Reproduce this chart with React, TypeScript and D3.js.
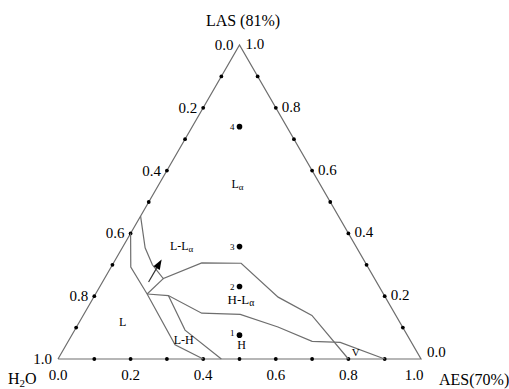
import React from "react";
import * as d3 from "d3";

// Ternary coordinates are given as [AES fraction, LAS fraction]; H2O = 1 - AES - LAS.
const tickValues = [0, 0.2, 0.4, 0.6, 0.8, 1.0];
const minorTicks = [0.1, 0.2, 0.3, 0.4, 0.5, 0.6, 0.7, 0.8, 0.9];

// Phase boundaries
const boundaryL: [number, number][] = [
  [0.0, 0.4], [0.054, 0.293], [0.142, 0.207], [0.3, 0.045], [0.4, 0.0],
];
const boundaryLLa: [number, number][] = [
  [0.0, 0.455], [0.063, 0.354], [0.11, 0.3], [0.162, 0.256], [0.243, 0.306],
  [0.352, 0.305], [0.508, 0.197], [0.63, 0.139], [0.8, 0.0],
];
const boundaryJoin: [number, number][] = [
  [0.162, 0.256], [0.142, 0.207],
];
const boundaryHLa: [number, number][] = [
  [0.142, 0.207], [0.203, 0.202], [0.323, 0.146], [0.431, 0.142],
  [0.555, 0.102], [0.672, 0.056], [0.751, 0.053], [0.9, 0.0],
];
const boundaryH: [number, number][] = [
  [0.203, 0.202], [0.304, 0.092], [0.45, 0.0],
];

// Sample compositions 1-4 (AES : H2O = 1 : 1)
const sampleIds = ["1", "2", "3", "4"];
const sampleLAS = [0.076, 0.231, 0.358, 0.74];

// Direction arrow
const arrowFrom: [number, number] = [0.127, 0.245];
const arrowTo: [number, number] = [0.127, 0.317];

// Region labels: text, subscript, [AES, LAS] of the baseline centre, font size
const regionText = ["L", "L-L", "H-L", "L", "L-H", "H", "V"];
const regionSub = ["α", "α", "α", "", "", "", ""];
const regionPos: [number, number][] = [
  [0.222, 0.545], [0.167, 0.347], [0.417, 0.174], [0.126, 0.105],
  [0.322, 0.049], [0.49, 0.032], [0.815, 0.01],
];
const regionSize = [12, 12, 13, 12, 12, 12, 11];

const W = 509;
const H = 389;
const FONT = "'Liberation Serif', 'Times New Roman', serif";
const LINE = "#6e6e6e";

export default function App() {
  const u = d3.scaleLinear().domain([0, 1]).range([58, 421]);
  const v = d3.scaleLinear().domain([0, 1]).range([359, 45]);
  const proj = ([a, l]: [number, number]): [number, number] => [u(a + l / 2), v(l)];

  const line = d3
    .line<[number, number]>()
    .x((d) => proj(d)[0])
    .y((d) => proj(d)[1]);

  const tri: [number, number][] = [[0, 0], [1, 0], [0, 1], [0, 0]];

  // arrow head geometry
  const [tx0, ty0] = proj(arrowFrom);
  const [tx1, ty1] = proj(arrowTo);
  const len = Math.hypot(tx1 - tx0, ty1 - ty0);
  const dx = (tx1 - tx0) / len;
  const dy = (ty1 - ty0) / len;
  const headL = 10;
  const headW = 3.6;
  const bx = tx1 - dx * headL;
  const by = ty1 - dy * headL;
  const head = `M${tx1},${ty1}L${bx - dy * headW},${by + dx * headW}L${bx + dy * headW},${by - dx * headW}Z`;

  const boundaries = [boundaryL, boundaryLLa, boundaryJoin, boundaryHLa, boundaryH];

  return (
    <svg
      width={W}
      height={H}
      style={{ position: "absolute", left: 0, top: 0, background: "#fff" }}
      fontFamily={FONT}
    >
      <path d={line(tri) ?? ""} fill="none" stroke={LINE} strokeWidth={1.2} />

      {/* side tick dots */}
      {minorTicks.map((t) => {
        const pb = proj([t, 0]);
        const pl = proj([0, t]);
        const pr = proj([1 - t, t]);
        return (
          <g key={t}>
            <circle cx={pb[0]} cy={pb[1]} r={1.9} fill="#000" />
            <circle cx={pl[0]} cy={pl[1]} r={1.9} fill="#000" />
            <circle cx={pr[0]} cy={pr[1]} r={1.9} fill="#000" />
          </g>
        );
      })}

      {/* bottom axis: AES */}
      {tickValues.map((t) => {
        const [x, y] = proj([t, 0]);
        return (
          <text key={"b" + t} x={x - (t === 1 ? 7 : 0)} y={y + 21} fontSize={15} textAnchor="middle">
            {t.toFixed(1)}
          </text>
        );
      })}
      {/* left axis: H2O */}
      {tickValues.map((t) => {
        const [x, y] = proj([0, 1 - t]);
        return (
          <text key={"l" + t} x={x - 6} y={y + 5} fontSize={15} textAnchor="end">
            {t.toFixed(1)}
          </text>
        );
      })}
      {/* right axis: LAS */}
      {tickValues.map((t) => {
        const [x, y] = proj([1 - t, t]);
        return (
          <text key={"r" + t} x={x + 6} y={y + (t === 0 ? -2 : 4)} fontSize={15} textAnchor="start">
            {t.toFixed(1)}
          </text>
        );
      })}

      <text x={243} y={26} fontSize={16} textAnchor="middle">LAS (81%)</text>
      <text x={439} y={385} fontSize={16}>AES(70%)</text>
      <text x={8} y={384} fontSize={16}>
        H<tspan fontSize={11} dy={3}>2</tspan>
        <tspan dy={-3}>O</tspan>
      </text>

      {/* phase boundaries */}
      {boundaries.map((b, i) => (
        <path key={i} d={line(b) ?? ""} fill="none" stroke={LINE} strokeWidth={1.2} />
      ))}

      {/* arrow */}
      <line x1={tx0} y1={ty0} x2={bx} y2={by} stroke="#333" strokeWidth={1.2} />
      <path d={head} fill="#000" />

      {/* samples */}
      {sampleLAS.map((l, i) => {
        const [x, y] = proj([(1 - l) / 2, l]);
        return (
          <g key={sampleIds[i]}>
            <circle cx={x} cy={y} r={2.8} fill="#000" />
            <text x={x - 5} y={y + (i === 0 ? 1 : 3.5)} fontSize={9} textAnchor="end">
              {sampleIds[i]}
            </text>
          </g>
        );
      })}

      {/* region labels */}
      {regionText.map((t, i) => {
        const [x, y] = proj(regionPos[i]);
        return (
          <text key={i} x={x} y={y} fontSize={regionSize[i]} textAnchor="middle">
            {t}
            {regionSub[i] && (
              <tspan fontSize={regionSize[i] * 0.75} dy={2}>
                {regionSub[i]}
              </tspan>
            )}
          </text>
        );
      })}
    </svg>
  );
}
